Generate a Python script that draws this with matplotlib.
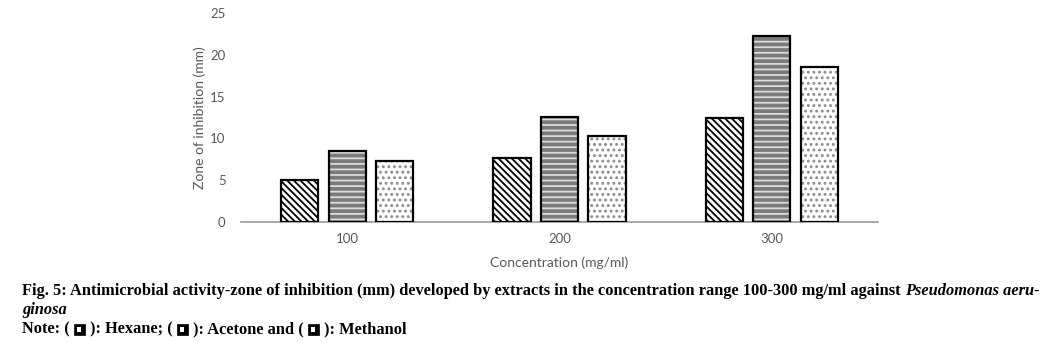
import matplotlib
matplotlib.use("Agg")
import matplotlib.pyplot as plt
import numpy as np
from matplotlib.patches import Rectangle

categories = ["100", "200", "300"]
hexane = [5.0, 7.6, 12.5]
acetone = [8.5, 12.6, 22.3]
methanol = [7.3, 10.3, 18.6]
yticks = [0, 5, 10, 15, 20, 25]

plt.rcParams["hatch.linewidth"] = 1.3

W, H = 1058, 342
fig = plt.figure(figsize=(W/100, H/100), dpi=100)
ax = fig.add_axes([241/W, 1-222/H, (878-241)/W, (222-13)/H])

x = np.arange(len(categories))
bw = 0.175
pitch = 0.224
styles = [
    (hexane, dict(facecolor="white", hatch="\\\\\\\\\\", hcol="black")),
    (acetone, dict(facecolor="#7a7a7a", hatch="---", hcol="#dcdcdc")),
    (methanol, dict(facecolor="white", hatch="...", hcol="#8c8c8c")),
]
for i, (vals, st) in enumerate(styles):
    pos = x + (i-1)*pitch
    ax.bar(pos, vals, bw, color=st["facecolor"], hatch=st["hatch"],
           edgecolor=st["hcol"], linewidth=0, zorder=2)
    ax.bar(pos, vals, bw, fill=False, edgecolor="black", linewidth=1.6, zorder=3)

ax.set_xlim(-0.5, 2.5)
ax.set_ylim(0, 25)
ax.set_yticks(yticks)
ax.set_xticks(x)
ax.set_xticklabels(categories)
for s in ["top", "right", "left"]:
    ax.spines[s].set_visible(False)
ax.spines["bottom"].set_color("#9a9a9a")
ax.spines["bottom"].set_linewidth(1.2)
ax.tick_params(length=0, labelsize=9.5, labelcolor="#595959")
ax.tick_params(axis="y", pad=11)
ax.tick_params(axis="x", pad=8)
for lab in ax.get_xticklabels() + ax.get_yticklabels():
    lab.set_family("Lato")
ax.set_ylabel("Zone of inhibition (mm)", family="Lato", fontsize=10, color="#595959", labelpad=3)
ax.set_xlabel("Concentration (mg/ml)", family="Lato", fontsize=10, color="#595959", labelpad=8)

# caption
cap_font = dict(family="Liberation Serif", fontweight="bold", color="black")
fig.canvas.draw()
r = fig.canvas.get_renderer()
fs = 11.8
t1 = fig.text(22/W, 1-291/H, "Fig. 5: Antimicrobial activity-zone of inhibition (mm) developed by extracts in the concentration range 100-300 mg/ml against ",
              fontsize=fs, va="center", ha="left", **cap_font)
bb = t1.get_window_extent(r)
t2 = fig.text(bb.x1/W, 1-291/H, "Pseudomonas aeru-", fontsize=fs, va="center", ha="left", style="italic", **cap_font)
fig.text(22/W, 1-310/H, "ginosa", fontsize=fs, va="center", ha="left", style="italic", **cap_font)

# note line
y_note = 1-329/H
xcur = 22
pieces = ["Note: ( ", None, " ): Hexane; ( ", None, " ): Acetone and ( ", None, " ): Methanol"]
k = 0
for p in pieces:
    if p is None:
        k += 1
        rect = Rectangle((xcur/W, y_note - 5.5/H), 11/W, 11/H, transform=fig.transFigure,
                         facecolor="black", edgecolor="black", linewidth=0.5)
        fig.patches.append(rect)
        inner = Rectangle(((xcur+3.5)/W, y_note - 2.5/H), 4/W, 5/H, transform=fig.transFigure,
                          facecolor="white", edgecolor="none")
        fig.patches.append(inner)
        xcur += 12
    else:
        t = fig.text(xcur/W, y_note, p, fontsize=fs, va="center", ha="left", **cap_font)
        xcur = t.get_window_extent(r).x1

fig.savefig("out.png", dpi=100)
